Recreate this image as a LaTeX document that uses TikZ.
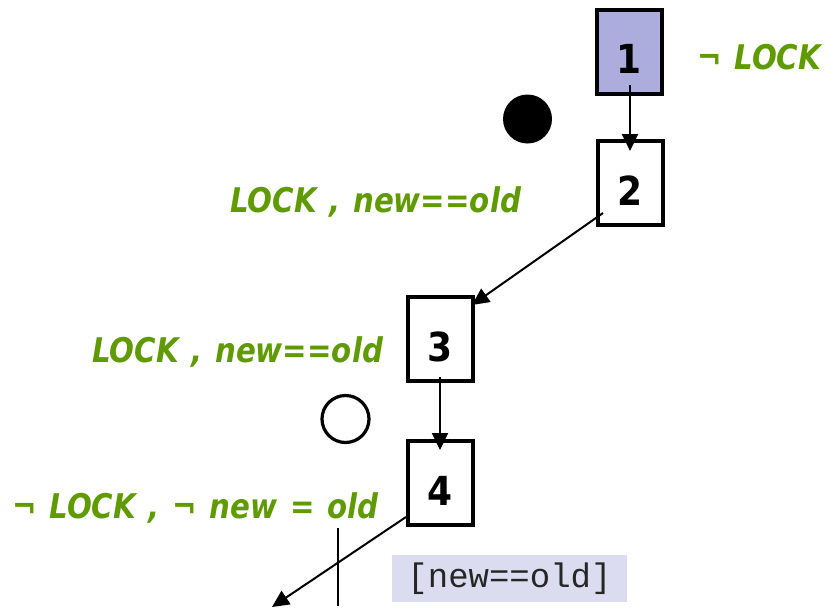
\documentclass[tikz,border=0pt]{standalone}
\usepackage{fontspec}
\setmainfont{DejaVu Sans}
\newfontfamily\condfont[FakeStretch=0.86,WordSpace=1.25]{DejaVu Sans}
\newfontfamily\digitfont[FakeStretch=0.9]{DejaVu Sans}
\setmonofont{Liberation Mono}
\usetikzlibrary{arrows.meta,calc}
\definecolor{lockgreen}{HTML}{5F9B00}
\definecolor{boxfill}{HTML}{ADADDD}
\definecolor{guardfill}{HTML}{DCDCF0}
\begin{document}
\begin{tikzpicture}[x=1pt,y=-1pt,
  state/.style={draw=black,line width=3.6pt,minimum width=65pt,minimum height=84pt,inner sep=0pt,text height=44pt,text depth=0pt,font=\digitfont\fontsize{40}{44}\selectfont\bfseries},
  cond/.style={text=lockgreen,font=\condfont\fontsize{34}{38}\selectfont\bfseries\itshape,inner sep=0pt},
  trans/.style={line width=2pt,-{Triangle[length=17pt,width=16pt]}},
  ]
\useasboundingbox (0,0) rectangle (826,610);
\node[state,fill=boxfill] (n1) at (629.5,52) {1};
\node[state] (n2) at (630.5,183) {2};
\node[state] (n3) at (440.5,339) {3};
\node[state] (n4) at (440.5,483) {4};
\node[circle,fill=black,minimum size=49pt,inner sep=0pt] (c1) at (527.5,119) {};
\node[circle,draw=black,line width=3.2pt,minimum size=47pt,inner sep=0pt] (c2) at (345.5,419) {};
\node[cond,anchor=base west] (l1) at (697,70) {¬ LOCK};
\node[cond,anchor=base west] (l2) at (230,212) {LOCK , new==old};
\node[cond,anchor=base west] (l3) at (92,362) {LOCK , new==old};
\node[cond,anchor=base west] (l4) at (12,518) {¬ LOCK , ¬ new = old};
\node[fill=guardfill,minimum width=235pt,minimum height=47pt,inner sep=0pt,font=\fontsize{34}{36}\ttfamily,text=black!85] (g) at (509.5,578.5) {[new==old]};
\coordinate (e1) at (630,85);
\coordinate (e2) at (630,151);
\draw[trans] (e1) -- (e2);
\coordinate (s2) at (603,213);
\coordinate (t3) at (472,305);
\draw[trans] (s2) -- (t3);
\coordinate (s3) at (440,377);
\coordinate (t4) at (440,450);
\draw[trans] (s3) -- (t4);
\coordinate (s4) at (406,517);
\coordinate (out) at (272,607);
\draw[trans] (s4) -- (out);
\coordinate (v1) at (338,528);
\coordinate (v2) at (338,606);
\draw[line width=1.8pt] (v1) -- (v2);
\end{tikzpicture}
\end{document}
